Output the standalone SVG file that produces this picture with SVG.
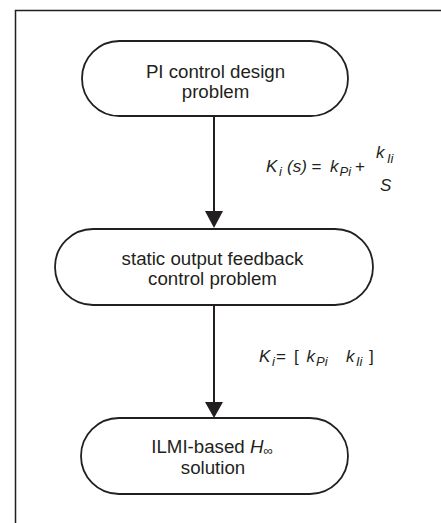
<svg xmlns="http://www.w3.org/2000/svg" width="441" height="523" viewBox="0 0 441 523">
<defs>
<style>
.node{fill:#fff;stroke:#231f20;stroke-width:1.8}
.nt{font-family:"Liberation Sans",Arial,sans-serif;font-size:18.7px;fill:#231f20;text-anchor:middle}
.edge{stroke:#231f20;stroke-width:2;fill:none}
.lbl{font-family:"Liberation Sans",Arial,sans-serif;font-size:17px;fill:#231f20;font-style:italic}
.sub{font-size:13px}
.up{font-style:normal}
.frame{stroke:#231f20;stroke-width:1.5;fill:none}
</style>
<marker id="arr" markerWidth="18" markerHeight="16" refX="9" refY="16" orient="auto" markerUnits="userSpaceOnUse" viewBox="0 0 18 16">
<path d="M0,0 L18,0 L9,16 Z" fill="#231f20"/>
</marker>
</defs>
<rect width="441" height="523" fill="#fff"/>
<path class="frame" d="M15.5,523 V10.5 H441"/>
<g id="connectors">
<line class="edge" x1="214" y1="116" x2="214" y2="211"/>
<path d="M205,211 L223,211 L214,228 Z" fill="#231f20"/>
<line class="edge" x1="214" y1="305" x2="214" y2="402"/>
<path d="M205,402 L223,402 L214,418 Z" fill="#231f20"/>
<text class="lbl"><tspan x="266" y="172">K</tspan><tspan class="sub" x="279" y="176">i</tspan><tspan x="287" y="172">(s)</tspan><tspan class="up" x="311.5" y="172">=</tspan><tspan x="330" y="172">k</tspan><tspan class="sub" x="339.5" y="176">Pi</tspan><tspan class="up" x="355" y="172">+</tspan><tspan x="376" y="158">k</tspan><tspan class="sub" x="387" y="162.5">Ii</tspan><tspan x="380" y="190.5">S</tspan></text>
<text class="lbl"><tspan x="259" y="361.5">K</tspan><tspan class="sub" x="272" y="366">i</tspan><tspan class="up" x="276" y="361.5">=</tspan><tspan class="up" x="294" y="361.5">[</tspan><tspan x="306.5" y="361.5">k</tspan><tspan class="sub" x="316" y="366">Pi</tspan><tspan x="346" y="361.5">k</tspan><tspan class="sub" x="356" y="366">Ii</tspan><tspan class="up" x="369" y="361.5">]</tspan></text>
</g>
<g id="node1">
<rect class="node" x="82" y="41" width="266" height="75" rx="37.5"/>
<text class="nt" x="215.5" y="77.7">PI control design</text>
<text class="nt" x="215.5" y="98">problem</text>
</g>
<g id="node2">
<rect class="node" x="55" y="229" width="318" height="76" rx="38"/>
<text class="nt" x="212.5" y="265">static output feedback</text>
<text class="nt" x="212.5" y="285">control problem</text>
</g>
<g id="node3">
<rect class="node" x="81" y="418" width="267" height="76" rx="38"/>
<text class="nt" x="212" y="452.7">ILMI-based <tspan font-style="italic">H</tspan><tspan font-size="13" dy="2">∞</tspan></text>
<text class="nt" x="213" y="474">solution</text>
</g>
</svg>
